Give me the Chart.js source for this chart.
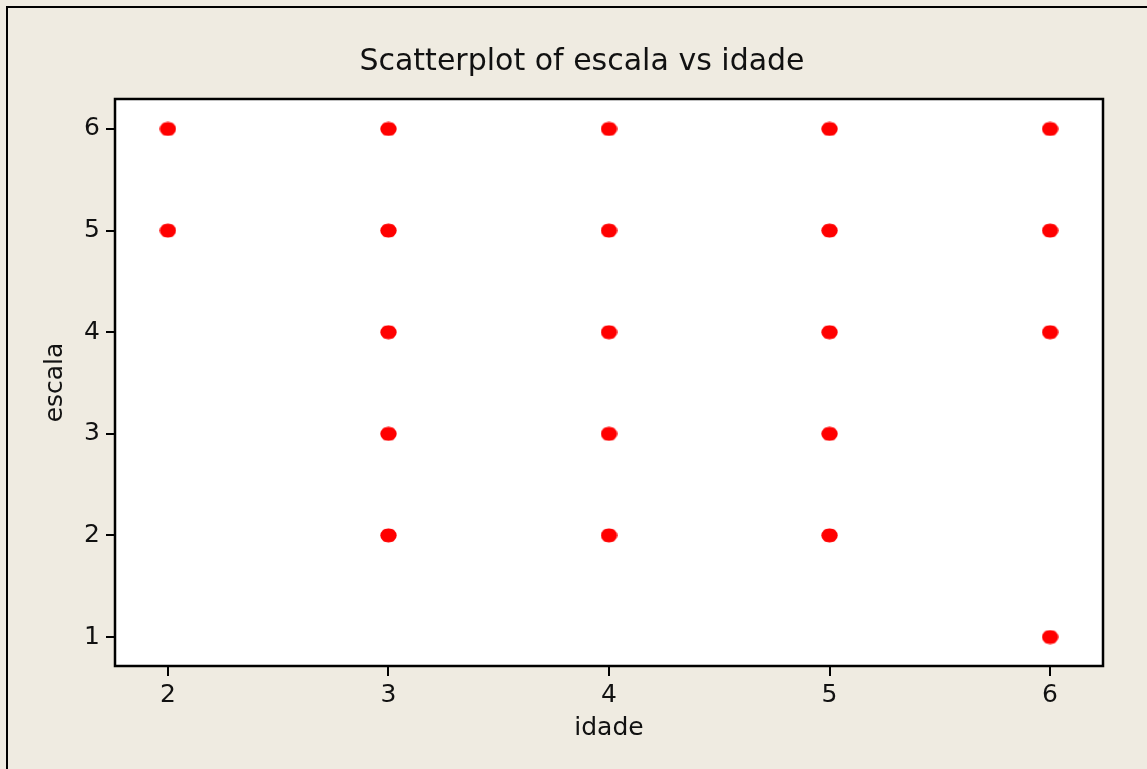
<!DOCTYPE html>
<html>
<head>
<meta charset="utf-8">
<script src="https://cdn.jsdelivr.net/npm/chart.js@4.4.1/dist/chart.umd.min.js"></script>
<style>
  html, body { margin: 0; padding: 0; background: #EFEBE1; }
  #wrap { width: 1147px; height: 769px; position: relative; }
</style>
</head>
<body>
<div id="wrap"><canvas id="c" width="1147" height="769"></canvas></div>
<script>
// ---- data ----
const idade  = [2, 2, 3, 3, 3, 3, 3, 4, 4, 4, 4, 4, 5, 5, 5, 5, 5, 6, 6, 6, 6];
const escala = [5, 6, 2, 3, 4, 5, 6, 2, 3, 4, 5, 6, 2, 3, 4, 5, 6, 1, 4, 5, 6];
const xTickValues = [2, 3, 4, 5, 6];
const yTickValues = [1, 2, 3, 4, 5, 6];
const titleText = 'Scatterplot of escala vs idade';
const xLabel = 'idade';
const yLabel = 'escala';

const points = idade.map((x, i) => ({ x: x, y: escala[i] }));

// point symbol: slightly wide filled dot
function makeDot() {
  const w = 17, h = 15;
  const c = document.createElement('canvas');
  c.width = w; c.height = h;
  const g = c.getContext('2d');
  g.fillStyle = '#FF0000';
  g.beginPath();
  g.ellipse(w / 2, h / 2, 8.2, 7, 0, 0, Math.PI * 2);
  g.fill();
  g.fillRect(3.5, 1.5, w - 7, h - 3);
  return c;
}
const dot = makeDot();

const FONT = "'DejaVu Sans', sans-serif";
const INK = '#111111';

const framePlugin = {
  id: 'frame',
  beforeDraw(chart) {
    const ctx = chart.ctx;
    ctx.save();
    ctx.fillStyle = '#EFEBE1';
    ctx.fillRect(0, 0, chart.width, chart.height);
    ctx.strokeStyle = '#000';
    ctx.lineWidth = 2;
    ctx.beginPath();
    ctx.moveTo(7, chart.height);
    ctx.lineTo(7, 7);
    ctx.lineTo(chart.width, 7);
    ctx.stroke();
    const a = chart.chartArea;
    ctx.fillStyle = '#FFFFFF';
    ctx.fillRect(a.left, a.top, a.right - a.left, a.bottom - a.top);
    ctx.restore();
  },
  afterDatasetsDraw(chart) {
    const ctx = chart.ctx;
    const a = chart.chartArea;
    ctx.save();
    ctx.strokeStyle = '#000';
    ctx.lineWidth = 2.5;
    ctx.strokeRect(a.left, a.top, a.right - a.left, a.bottom - a.top);
    ctx.restore();
  },
  afterLayout(chart) {
    const t = chart.titleBlock;
    if (t) {
      const cx = 582;
      const half = (t.right - t.left) / 2;
      t.left = cx - half;
      t.right = cx + half;
    }
  }
};

new Chart(document.getElementById('c'), {
  type: 'scatter',
  data: {
    datasets: [{
      data: points,
      pointStyle: dot,
      backgroundColor: '#FF0000',
      borderColor: '#FF0000',
      pointRadius: 7,
      pointHoverRadius: 7
    }]
  },
  plugins: [framePlugin],
  options: {
    responsive: false,
    animation: false,
    events: [],
    layout: { padding: { left: 0, right: 44, top: 0, bottom: 0 } },
    plugins: {
      legend: { display: false },
      tooltip: { enabled: false },
      title: {
        display: true,
        text: titleText,
        color: INK,
        font: { family: FONT, size: 30, weight: 'normal', lineHeight: 1.2 },
        padding: { top: 44, bottom: 19 }
      }
    },
    scales: {
      x: {
        type: 'linear',
        min: 1.76,
        max: 6.24,
        afterBuildTicks(s) { s.ticks = xTickValues.map(v => ({ value: v })); },
        afterFit(s) { s.height = 103; },
        border: { display: false },
        grid: {
          drawOnChartArea: false,
          drawTicks: true,
          tickLength: 10,
          color: '#000',
          lineWidth: 2
        },
        ticks: {
          color: INK,
          padding: 4,
          font: { family: FONT, size: 25 },
          callback: v => String(v)
        },
        title: {
          display: true,
          text: xLabel,
          color: INK,
          font: { family: FONT, size: 25, lineHeight: 1.2 },
          padding: { top: 0, bottom: 26 }
        }
      },
      y: {
        type: 'linear',
        min: 0.715,
        max: 6.295,
        afterBuildTicks(s) { s.ticks = yTickValues.map(v => ({ value: v })); },
        afterFit(s) { s.width = 115; },
        border: { display: false },
        grid: {
          drawOnChartArea: false,
          drawTicks: true,
          tickLength: 9,
          color: '#000',
          lineWidth: 2
        },
        ticks: {
          color: INK,
          padding: 6,
          font: { family: FONT, size: 25 },
          callback: v => String(v)
        },
        title: {
          display: true,
          text: yLabel,
          color: INK,
          font: { family: FONT, size: 25, lineHeight: 1.2 },
          padding: { top: 40, bottom: 0 }
        }
      }
    }
  }
});
</script>
</body>
</html>
